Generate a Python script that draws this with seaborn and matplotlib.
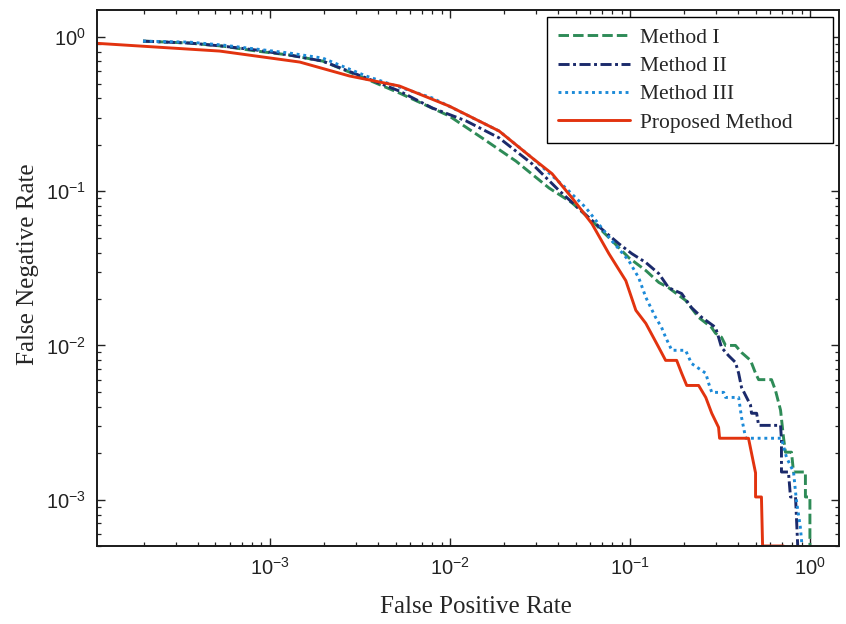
import matplotlib
matplotlib.use("Agg")
import matplotlib.pyplot as plt
import seaborn as sns
import numpy as np
import pandas as pd
from matplotlib.ticker import LogLocator, NullFormatter

# ---------------- data ----------------
m1_fpr = [1.98e-4, 3.60e-4, 5.49e-4, 8.47e-4, 1.29e-3, 1.97e-3, 3.44e-3, 5.25e-3, 9.93e-3,
          0.0151, 0.0233, 0.0356, 0.0477, 0.0615, 0.0766, 0.0986, 0.1227, 0.145, 0.164,
          0.204, 0.241, 0.284, 0.299, 0.323, 0.340, 0.386, 0.417, 0.468, 0.499, 0.519,
          0.612, 0.644, 0.687, 0.713, 0.731, 0.790, 0.811, 0.944, 0.944, 1.0, 1.0]
m1_fnr = [0.942, 0.915, 0.874, 0.812, 0.765, 0.699, 0.535, 0.434, 0.308,
          0.222, 0.157, 0.105, 0.0843, 0.0644, 0.050, 0.0371, 0.0306, 0.0256, 0.0237,
          0.0196, 0.0152, 0.0131, 0.0120, 0.0113, 0.0100, 0.0100, 0.0090, 0.0080, 0.0066, 0.0060,
          0.0060, 0.0051, 0.0038, 0.00254, 0.00203, 0.00203, 0.00151, 0.00151, 0.00104, 0.00104, 4.0e-4]

m2_fpr = [1.98e-4, 3.60e-4, 5.49e-4, 8.47e-4, 1.29e-3, 1.97e-3, 3.44e-3, 5.25e-3, 8.0e-3,
          0.01233, 0.0188, 0.0286, 0.0405, 0.0593, 0.0736, 0.0869, 0.1026, 0.1227, 0.145,
          0.164, 0.194, 0.220, 0.251, 0.299, 0.311, 0.323, 0.353, 0.386, 0.402, 0.417,
          0.445, 0.468, 0.474, 0.506, 0.519, 0.687, 0.695, 0.695, 0.760, 0.780, 0.832, 0.863]
m2_fnr = [0.942, 0.915, 0.874, 0.824, 0.765, 0.699, 0.543, 0.447, 0.347,
          0.286, 0.222, 0.151, 0.101, 0.0674, 0.0539, 0.0457, 0.0394, 0.0345, 0.0292,
          0.0237, 0.0217, 0.0176, 0.0152, 0.0131, 0.0113, 0.0097, 0.0086, 0.00776, 0.0066, 0.00535,
          0.0046, 0.0041, 0.00363, 0.00363, 0.00303, 0.00303, 0.00243, 0.00151, 0.00151, 0.00104,
          0.00104, 4.0e-4]

m3_fpr = [1.98e-4, 3.60e-4, 5.49e-4, 8.47e-4, 1.29e-3, 1.97e-3, 3.44e-3, 8.0e-3, 0.0188,
          0.0286, 0.0441, 0.0570, 0.0794, 0.0986, 0.112, 0.1227, 0.139, 0.150, 0.158,
          0.171, 0.204, 0.220, 0.264, 0.274, 0.285, 0.332, 0.340, 0.402, 0.417, 0.440,
          0.695, 0.741, 0.811, 0.841, 0.885, 0.92]
m3_fnr = [0.942, 0.928, 0.888, 0.836, 0.788, 0.731, 0.559, 0.403, 0.246,
          0.165, 0.105, 0.0782, 0.0478, 0.0355, 0.0275, 0.0205, 0.0152, 0.0131, 0.0113,
          0.0093, 0.0093, 0.00764, 0.0066, 0.00568, 0.00496, 0.00496, 0.0046, 0.0046, 0.00342, 0.0025,
          0.0025, 0.00188, 0.00151, 0.00099, 6.6e-4, 4.0e-4]

pm_fpr = [1.0e-4, 5.28e-4, 1.47e-3, 2.77e-3, 5.25e-3, 9.93e-3, 0.0188, 0.0286, 0.037,
          0.0477, 0.0616, 0.0765, 0.095, 0.108, 0.1227, 0.1448, 0.158, 0.182, 0.194,
          0.207, 0.241, 0.264, 0.285, 0.311, 0.315, 0.456, 0.474, 0.499, 0.499, 0.538,
          0.546, 0.713]
pm_fnr = [0.918, 0.812, 0.689, 0.560, 0.482, 0.357, 0.246, 0.165, 0.130,
          0.0908, 0.0616, 0.0394, 0.0263, 0.0169, 0.0139, 0.0097, 0.0080, 0.0080, 0.0066,
          0.0055, 0.0055, 0.0046, 0.00363, 0.00294, 0.0025, 0.0025, 0.0020, 0.00149, 0.00104, 0.00104,
          5.0e-4, 5.0e-4]

labels = ["Method I", "Method II", "Method III", "Proposed Method"]
colors = ["#2e8b57", "#1b2a6b", "#1c8ad8", "#e2330f"]
dash_patterns = [(3.6, 1.4), (3.8, 1.2, 1.0, 1.2), (1.0, 1.3), None]
series = [(m1_fpr, m1_fnr), (m2_fpr, m2_fnr), (m3_fpr, m3_fnr), (pm_fpr, pm_fnr)]

# ---------------- figure ----------------
sns.set_style("ticks")
plt.rcParams["font.family"] = ["Liberation Sans", "DejaVu Sans"]
plt.rcParams["xtick.direction"] = "in"
plt.rcParams["ytick.direction"] = "in"

fig = plt.figure(figsize=(8.46, 6.24), dpi=100)
ax = fig.add_axes([0.1147, 0.125, 0.877, 0.859])

for (fx, fy), lab, col, dp in zip(series, labels, colors, dash_patterns):
    df = pd.DataFrame({"fpr": fx, "fnr": fy})
    sns.lineplot(data=df, x="fpr", y="fnr", sort=False, estimator=None,
                 color=col, linewidth=2.1, label=lab, ax=ax)
    line = ax.lines[-1]
    if dp is not None:
        line.set_dashes(dp)
    line.set_dash_capstyle("butt")

ax.set_xscale("log")
ax.set_yscale("log")
ax.set_xlim(1.1e-4, 1.45)
ax.set_ylim(5.0e-4, 1.5)

ax.xaxis.set_major_locator(LogLocator(base=10, numticks=10))
ax.yaxis.set_major_locator(LogLocator(base=10, numticks=10))
ax.xaxis.set_minor_locator(LogLocator(base=10, subs=np.arange(2, 10), numticks=20))
ax.yaxis.set_minor_locator(LogLocator(base=10, subs=np.arange(2, 10), numticks=20))
ax.xaxis.set_minor_formatter(NullFormatter())
ax.yaxis.set_minor_formatter(NullFormatter())

ax.tick_params(which="both", direction="in", top=True, right=True, colors="#222222")
ax.tick_params(which="major", length=6, width=1.0, labelsize=14.5, pad=8)
ax.tick_params(which="minor", length=3.2, width=0.9)
for sp in ax.spines.values():
    sp.set_linewidth(1.4)
    sp.set_color("#1a1a1a")

serif = ["Liberation Serif", "DejaVu Serif"]
ax.set_xlabel("False Positive Rate", fontsize=18, family=serif, labelpad=12, x=0.511)
ax.set_ylabel("False Negative Rate", fontsize=18, family=serif, labelpad=5, y=0.526)

leg = ax.legend(loc="upper left", bbox_to_anchor=(0.6065, 0.5, 0.3855, 0.4869),
                mode="expand", prop={"family": serif, "size": 15.5},
                frameon=True, fancybox=False, framealpha=1, edgecolor="black",
                handlelength=3.35, borderaxespad=0.0, labelspacing=0.38,
                borderpad=0.5, handletextpad=0.45)
leg.get_frame().set_linewidth(1.0)

fig.savefig("out.png", dpi=100)
